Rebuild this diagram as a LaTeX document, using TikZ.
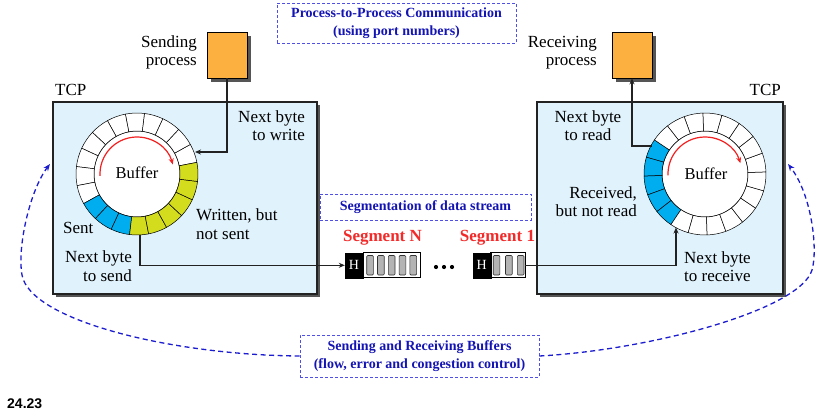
\documentclass[tikz,border=0pt]{standalone}
\usepackage{fontspec}
\setmainfont{Liberation Serif}
\newfontfamily\figsans{Liberation Sans}
\usetikzlibrary{arrows.meta,shadows,calc}
\definecolor{tcpfill}{HTML}{E0F2FC}
\definecolor{cellyel}{HTML}{D4DC1E}
\definecolor{cellblue}{HTML}{00AEEF}
\definecolor{procorange}{HTML}{FBB040}
\definecolor{redarr}{HTML}{F42020}
\definecolor{dashblue}{HTML}{1C1CD0}
\definecolor{boxblue}{HTML}{5050E6}
\definecolor{labblue}{HTML}{1414B4}
\definecolor{shadowgray}{HTML}{555555}
\definecolor{segred}{HTML}{F22A2A}
\definecolor{cellgray}{HTML}{B4B4B4}
\definecolor{linegray}{HTML}{222222}
\tikzset{
  lab/.style={font=\fontsize{17}{18.5}\selectfont, inner sep=0pt, text=black},
  shadowed/.style={general shadow={fill=shadowgray, shadow xshift=3pt, shadow yshift=-3pt}},
  tcpbox/.style={draw=linegray, line width=1.1pt, fill=tcpfill, shadowed},
  procbox/.style={draw=black, line width=0.8pt, fill=procorange, minimum width=40pt, minimum height=46pt, inner sep=0pt, general shadow={fill=shadowgray, shadow xshift=4pt, shadow yshift=-4pt}},
  infobox/.style={draw=boxblue, line width=0.9pt, dash pattern=on 3pt off 2pt, text=labblue, font=\bfseries\fontsize{14}{18}\selectfont, align=center, inner sep=0pt},
  conn/.style={draw=linegray, line width=1.1pt, -{Stealth[length=6pt,width=5pt]}},
  bigdash/.style={draw=dashblue, line width=1.3pt, dash pattern=on 5pt off 3.5pt, -{Stealth[length=7pt,width=5.5pt]}},
  redarc/.style={draw=redarr, line width=1.2pt, -{Stealth[length=6pt,width=5pt]}},
  hbox/.style={fill=black, draw=black, text=white, minimum width=18pt, minimum height=25pt, inner sep=0pt, font=\fontsize{14}{14}\selectfont},
  segbody/.style={fill=white, draw=black, line width=0.8pt, minimum height=25pt, inner sep=0pt},
  segcell/.style={fill=cellgray, draw=black!80, line width=0.6pt, rounded corners=1pt},
  seglab/.style={text=segred, font=\bfseries\fontsize{17}{18}\selectfont, inner sep=0pt},
  ringcell/.style={draw=black, line width=0.5pt}
}
\begin{document}
\begin{tikzpicture}[x=1pt,y=-1pt]
\useasboundingbox (0,0) rectangle (825,410);
\fill[white] (0,0) rectangle (825,410);

% TCP boxes
\node[tcpbox, minimum width=264pt, minimum height=192pt] (tcpL) at (185,198) {};
\node[tcpbox, minimum width=246pt, minimum height=192pt] (tcpR) at (660,198) {};
\node[lab, anchor=west] (tcpLlab) at (55,90) {TCP};
\node[lab, anchor=east] (tcpRlab) at (781,90) {TCP};

% processes
\node[procbox] (sp) at (227,55) {};
\node[procbox] (rp) at (632,55) {};
\node[lab, anchor=east, align=right] (splab) at (197,52.5) {Sending\\process};
\node[lab, anchor=east, align=right] (rplab) at (597,52.5) {Receiving\\process};

% left ring
\begin{scope}[shift={(137,174)}]
  \filldraw[fill=white, draw=black, line width=0.6pt] (0:0pt) circle[radius=43pt];
  \foreach \i in {0,...,19}{
    \pgfmathsetmacro\a{11+18*\i}
    \pgfmathsetmacro\b{29+18*\i}
    \def\c{white}
    \ifnum\i>13 \def\c{cellyel}\fi
    \ifnum\i>10 \ifnum\i<14 \def\c{cellblue}\fi\fi
    \filldraw[ringcell, fill=\c] (\a:43pt) arc[start angle=\a, end angle=\b, radius=43pt] -- (\b:61pt) arc[start angle=\b, end angle=\a, radius=61pt] -- cycle;
  }
  \draw[redarc] (183:37pt) arc[start angle=183, end angle=15, radius=37pt];
\end{scope}
\node[font=\fontsize{16.5}{18}\selectfont, inner sep=0pt] (bufL) at (137,173) {Buffer};

% right ring
\begin{scope}[shift={(705,174)}]
  \filldraw[fill=white, draw=black, line width=0.6pt] (0:0pt) circle[radius=43pt];
  \foreach \i in {0,...,19}{
    \pgfmathsetmacro\a{146+18*\i}
    \pgfmathsetmacro\b{164+18*\i}
    \def\c{white}
    \ifnum\i<5 \def\c{cellblue}\fi
    \filldraw[ringcell, fill=\c] (\a:43pt) arc[start angle=\a, end angle=\b, radius=43pt] -- (\b:61pt) arc[start angle=\b, end angle=\a, radius=61pt] -- cycle;
  }
  \draw[redarc] (182:37pt) arc[start angle=182, end angle=17, radius=37pt];
\end{scope}
\node[font=\fontsize{16.5}{18}\selectfont, inner sep=0pt] (bufR) at (706,174) {Buffer};

% labels in the boxes
\node[lab, anchor=east, align=right] (nbw) at (305,125.5) {Next byte\\to write};
\node[lab, anchor=west, align=left] (wns) at (196,224) {Written, but\\not sent};
\node[lab, anchor=west] (sent) at (63,228) {Sent};
\node[lab, anchor=east, align=right] (nbs) at (132,266) {Next byte\\to send};
\node[lab, align=center] (nbr) at (588,125.5) {Next byte\\to read};
\node[lab, anchor=east, align=right] (rnr) at (637,201.5) {Received,\\but not read};
\node[lab, anchor=west, align=left] (nbrc) at (684,266.5) {Next byte\\to receive};

% info boxes
\node[infobox, minimum width=239pt, minimum height=40pt] (ptp) at (396.5,23) {Process-to-Process Communication\\(using port numbers)};
\node[infobox, minimum width=211pt, minimum height=26pt] (seg) at (425.5,207) {Segmentation of data stream};
\node[infobox, minimum width=239pt, minimum height=42pt] (srb) at (419.5,356) {Sending and Receiving Buffers\\(flow, error and congestion control)};

% segments
\node[seglab] (segNlab) at (382.5,238) {Segment N};
\node[seglab] (seg1lab) at (497.5,238) {Segment 1};
\node[segbody, minimum width=57pt] (bN) at (391.5,265.3) {};
\node[hbox] (hN) at (354,265.3) {H};
\foreach \x in {366.7,377.5,388.3,399.1,409.9}{
  \draw[segcell] (\x,255.5) rectangle (\x+6.7,275);
}
\node[segbody, minimum width=34.3pt] (b1) at (507.85,265.3) {};
\node[hbox] (h1) at (481.7,265.3) {H};
\foreach \x in {493.2,505.5,517.3}{
  \draw[segcell] (\x,255.5) rectangle (\x+6.7,275);
}
\foreach \x in {436,444,452}{
  \fill[black] (\x,267) circle[radius=2.1pt];
}

% connector end points on the rings
\coordinate (wtip) at (195,152);
\coordinate (stail) at (140,235);
\coordinate (rtail) at (652,146);
\coordinate (rtip) at (676,227.5);
\coordinate (larr) at (50,164);
\coordinate (rarr) at (788,164);

\draw[conn] (sp.south) |- (wtip);
\draw[conn] (stail) |- (hN.west);
\draw[conn] (b1.east) -| (rtip);
\draw[conn] (rtail) -| (rp.south);

% dashed loops
\draw[bigdash] (srb.west) .. controls (170,355) and (30,320) .. (22,275) .. controls (17,247) and (30,190) .. (larr);
\draw[bigdash] (srb.east) .. controls (650,350) and (800,310) .. (812,270) .. controls (818,250) and (812,195) .. (rarr);

\node[font=\figsans\bfseries\fontsize{14}{14}\selectfont, anchor=west, inner sep=0pt] (fig) at (7,403.5) {24.23};
\end{tikzpicture}
\end{document}
